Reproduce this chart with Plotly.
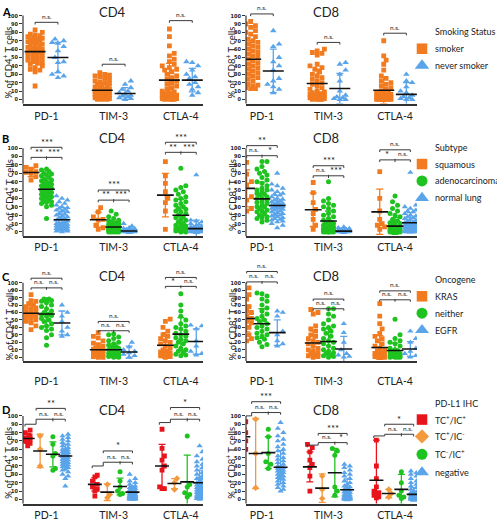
import plotly.graph_objects as go

W, H = 497, 521
categories = ["PD-1", "TIM-3", "CTLA-4"]
y_ticks = list(range(0, 101, 10))

# ---------------- Panel A : smoking status ----------------
a_names = ["smoker", "never smoker"]
a_cd4_smoker = [
    [83, 80, 78, 77, 76, 75, 74, 73, 72, 71, 70, 70, 69, 68, 67, 66, 65, 64, 63, 62, 61, 60, 60, 59, 58, 57, 56, 55, 54, 53, 52, 50, 49, 48, 47, 45, 44, 43, 42, 40, 38, 36, 35, 33, 16],
    [32, 30, 29, 28, 27, 25, 24, 22, 21, 20, 19, 18, 17, 16, 15, 14, 13, 12, 11, 10, 10, 9, 9, 8, 8, 7, 6, 6, 5, 5, 4, 4, 3, 3, 2, 2, 1, 1, 1, 0, 0, 0],
    [84, 75, 64, 55, 52, 48, 45, 42, 40, 38, 36, 35, 33, 30, 28, 26, 24, 22, 20, 18, 16, 14, 12, 10, 9, 8, 7, 6, 5, 5, 4, 3, 3, 2, 2, 1, 1, 1, 0, 0, 0, 0],
]
a_cd4_never = [
    [72, 70, 68, 67, 63, 58, 50, 45, 44, 33, 30, 28, 26],
    [22, 18, 14, 12, 10, 8, 6, 5, 4, 3, 2, 1, 0],
    [45, 44, 40, 35, 30, 27, 25, 20, 18, 15, 12, 8, 5],
]
a_cd4_mean = [[57, 11, 23], [50, 7, 23]]
a_cd4_sd = [[14, 9, 20], [18, 7, 14]]
a_cd4_sig = [("n.s.", 92), ("n.s.", 42), ("n.s.", 94)]

a_cd8_smoker = [
    [93, 90, 88, 86, 82, 80, 78, 75, 72, 70, 68, 66, 64, 62, 60, 58, 56, 55, 54, 52, 50, 48, 46, 44, 42, 40, 38, 36, 34, 32, 30, 28, 26, 24, 22, 20, 18, 17, 16, 14, 13, 13],
    [60, 58, 56, 55, 53, 42, 40, 38, 36, 33, 30, 28, 26, 24, 22, 20, 18, 16, 14, 12, 10, 9, 8, 7, 6, 5, 5, 4, 3, 3, 2, 2, 1, 1, 0, 0, 0, 0],
    [70, 52, 47, 42, 35, 28, 25, 22, 20, 18, 16, 14, 12, 10, 9, 8, 7, 6, 5, 5, 4, 4, 3, 3, 2, 2, 2, 1, 1, 1, 0, 0, 0, 0, 0, 0, 0, 0],
]
a_cd8_never = [
    [82, 66, 63, 50, 45, 40, 35, 25, 22, 18, 15, 12, 8],
    [44, 42, 35, 30, 22, 10, 5, 3, 2, 1, 0, 0],
    [30, 22, 20, 15, 10, 8, 5, 3, 2, 1, 0, 0],
]
a_cd8_mean = [[48, 19, 11], [34, 13, 6]]
a_cd8_sd = [[22, 17, 16], [26, 18, 14]]
a_cd8_sig = [("n.s.", 102), ("n.s.", 68), ("n.s.", 79)]

# ---------------- Panel B : subtype ----------------
b_names = ["squamous", "adenocarcinoma", "normal lung"]
b_cd4_squamous = [
    [79, 77, 75, 72, 71, 70, 66, 62],
    [29, 24, 18, 15, 14, 8, 5, 3],
    [84, 67, 58, 48, 40, 35, 25, 3],
]
b_cd4_adeno = [
    [75, 74, 72, 70, 69, 68, 67, 65, 63, 62, 61, 60, 58, 58, 57, 56, 55, 54, 53, 52, 51, 50, 49, 48, 47, 46, 45, 44, 43, 42, 41, 40, 38, 37, 36, 35, 34, 32, 30, 16],
    [25, 21, 18, 16, 14, 13, 12, 11, 10, 10, 9, 9, 8, 8, 7, 7, 6, 6, 6, 5, 5, 5, 4, 4, 4, 3, 3, 3, 2, 2, 2, 1, 1, 1, 1, 0, 0, 0, 0, 0],
    [76, 55, 53, 50, 48, 45, 42, 40, 38, 36, 34, 32, 30, 28, 27, 25, 24, 22, 20, 18, 17, 15, 14, 12, 10, 9, 8, 7, 6, 5, 5, 4, 3, 3, 2, 2, 1, 1, 0, 0],
]
b_cd4_normal = [
    [43, 40, 38, 36, 34, 32, 30, 29, 28, 27, 26, 25, 24, 22, 21, 20, 19, 18, 17, 16, 15, 14, 13, 12, 11, 10, 10, 9, 9, 8, 8, 7, 7, 6, 5, 5, 4, 4, 3, 3, 2, 2, 1, 1, 0],
    [10, 7, 5, 4, 4, 3, 3, 3, 2, 2, 2, 2, 2, 1, 1, 1, 1, 1, 1, 1, 1, 1, 1, 1, 0, 0, 0, 0, 0, 0, 0, 0, 0, 0, 0, 0, 0, 0, 0, 0, 0, 0, 0, 0, 0],
    [68, 14, 13, 12, 10, 9, 8, 7, 6, 6, 5, 5, 4, 4, 3, 3, 3, 2, 2, 2, 2, 1, 1, 1, 1, 1, 1, 0, 0, 0, 0, 0, 0, 0, 0, 0, 0, 0, 0, 0, 0, 0, 0, 0, 0],
]
b_cd4_mean = [[71, 14.6, 44], [51, 6, 20], [14.6, 1.2, 4]]
b_cd4_sd = [[5, 9, 26], [13, 6, 19], [10, 2, 10]]
b_cd4_sig = [("***", 101, "**", "***", 89), ("***", 50, "**", "***", 38), ("***", 107, "**", "***", 95)]

b_cd8_squamous = [
    [83, 69, 60, 56, 42, 38, 28, 25],
    [59, 47, 35, 27, 22, 15, 8, 3],
    [72, 40, 25, 15, 10, 8, 6, 3],
]
b_cd8_adeno = [
    [84, 84, 78, 75, 72, 70, 68, 65, 62, 60, 58, 55, 52, 50, 50, 48, 46, 45, 44, 42, 40, 40, 38, 36, 35, 34, 32, 30, 30, 28, 26, 25, 24, 22, 20, 18, 17, 16, 14, 12],
    [60, 40, 37, 34, 32, 30, 28, 25, 22, 20, 18, 16, 14, 12, 11, 10, 9, 8, 7, 6, 5, 5, 4, 4, 3, 3, 3, 2, 2, 2, 1, 1, 1, 1, 0, 0, 0, 0, 0, 0],
    [43, 36, 32, 28, 25, 22, 20, 18, 15, 13, 12, 11, 10, 9, 8, 7, 6, 6, 5, 5, 4, 4, 3, 3, 3, 2, 2, 2, 1, 1, 1, 1, 0, 0, 0, 0, 0, 0, 0, 0],
]
b_cd8_normal = [
    [70, 57, 55, 52, 50, 48, 46, 45, 44, 42, 40, 39, 38, 37, 36, 35, 34, 33, 33, 32, 31, 30, 30, 29, 28, 28, 27, 26, 25, 24, 23, 22, 21, 20, 19, 18, 17, 16, 15, 14, 13, 12, 10, 8, 5],
    [6, 5, 4, 3, 3, 3, 2, 2, 2, 2, 2, 2, 1, 1, 1, 1, 1, 1, 1, 1, 1, 1, 1, 1, 0, 0, 0, 0, 0, 0, 0, 0, 0, 0, 0, 0, 0, 0, 0, 0, 0, 0, 0, 0, 0],
    [71, 32, 30, 28, 26, 25, 24, 22, 20, 19, 18, 17, 16, 15, 14, 13, 12, 11, 10, 10, 9, 9, 8, 8, 7, 7, 6, 6, 5, 5, 4, 4, 3, 3, 2, 2, 2, 1, 1, 1, 0, 0, 0, 0, 0],
]
b_cd8_mean = [[52, 26.5, 24], [39.5, 13, 7], [31.6, 1, 11]]
b_cd8_sd = [[22, 20, 27], [20, 12, 10], [12, 1.5, 12]]
b_cd8_sig = [("**", 103, "n.s.", "*", 91), ("***", 79, "n.s.", "***", 67), ("n.s.", 98, "*", "n.s.", 86)]

# ---------------- Panel C : oncogene ----------------
c_names = ["KRAS", "neither", "EGFR"]
c_cd4_kras = [
    [84, 76, 75, 72, 70, 68, 66, 65, 63, 62, 60, 58, 57, 56, 55, 53, 52, 50, 48, 46, 42, 37],
    [33, 28, 26, 22, 19, 17, 15, 13, 12, 11, 10, 9, 8, 7, 6, 5, 4, 3, 2, 1, 0, 0],
    [51, 48, 40, 35, 30, 28, 25, 22, 20, 18, 15, 12, 10, 8, 7, 6, 5, 4, 3, 2, 1, 0],
]
c_cd4_neither = [
    [78, 78, 77, 76, 75, 73, 70, 68, 65, 62, 60, 58, 57, 56, 55, 52, 50, 48, 45, 42, 40, 38, 36, 30, 26, 16],
    [31, 30, 27, 25, 22, 20, 18, 16, 14, 13, 12, 11, 10, 9, 8, 7, 6, 5, 4, 3, 2, 2, 1, 1, 0, 0],
    [85, 70, 62, 55, 50, 45, 42, 40, 38, 35, 32, 30, 28, 26, 24, 22, 20, 18, 15, 12, 10, 8, 6, 4, 3, 2],
]
c_cd4_egfr = [
    [70, 60, 55, 48, 40, 35, 30, 28],
    [20, 14, 10, 8, 6, 4, 2, 0],
    [43, 42, 38, 22, 15, 8, 5, 3],
]
c_cd4_mean = [[59, 10, 16], [58, 10, 31], [46, 7, 21]]
c_cd4_sd = [[11, 8, 17], [16, 8, 22], [16, 8, 17]]
c_cd4_sig = [("n.s.", 106, "n.s.", "n.s.", 93), ("n.s.", 48, "n.s.", "n.s.", 35.5), ("n.s.", 107, "*", "n.s.", 95)]

c_cd8_kras = [
    [93, 89, 84, 78, 72, 68, 65, 62, 60, 58, 55, 52, 50, 48, 46, 44, 40, 35, 30, 28, 25, 22],
    [64, 60, 58, 42, 38, 35, 30, 28, 25, 22, 20, 18, 15, 12, 10, 8, 6, 5, 3, 2, 1, 0],
    [72, 55, 45, 38, 32, 28, 25, 22, 18, 15, 12, 10, 8, 6, 5, 4, 3, 2, 1, 1, 0, 0],
]
c_cd8_neither = [
    [86, 85, 82, 78, 75, 70, 66, 62, 58, 55, 52, 50, 48, 45, 42, 40, 38, 35, 32, 30, 28, 26, 24, 20, 17, 14],
    [65, 65, 58, 55, 50, 45, 42, 40, 38, 35, 32, 28, 25, 22, 20, 18, 15, 12, 10, 8, 6, 5, 3, 2, 1, 0],
    [51, 30, 25, 22, 20, 18, 15, 12, 10, 9, 8, 7, 6, 5, 5, 4, 3, 3, 2, 2, 1, 1, 0, 0, 0, 0],
]
c_cd8_egfr = [
    [62, 60, 55, 35, 30, 22, 18, 15],
    [45, 33, 20, 10, 5, 3, 1, 0],
    [35, 25, 20, 12, 8, 5, 2, 0],
]
c_cd8_mean = [[52, 19, 13], [45, 21, 9], [33, 11, 11]]
c_cd8_sd = [[18, 16, 16], [20, 17, 10], [17, 17, 10]]
c_cd8_sig = [("n.s.", 115, "n.s.", "n.s.", 101), ("n.s.", 78, "n.s.", "n.s.", 65), ("n.s.", 89, "n.s.", "n.s.", 77)]

# ---------------- Panel D : PD-L1 IHC ----------------
d_names = ["TC<sup>+</sup>/IC<sup>+</sup>", "TC<sup>+</sup>/IC<sup>-</sup>", "TC<sup>-</sup>/IC<sup>+</sup>", "negative"]
d_cd4_tcic = [
    [83, 80, 76, 74, 73, 72, 70, 67, 64],
    [29, 27, 22, 18, 15, 12, 10, 4],
    [84, 61, 52, 47, 40, 35, 15, 13, 13],
]
d_cd4_tc = [[76, 60, 40], [18, 6, 2], [25, 20, 12]]
d_cd4_ic = [[75, 66, 55, 52, 37, 35], [33, 22, 15, 10, 7, 6], [76, 18, 15, 8, 6, 3]]
d_cd4_neg = [
    [78, 76, 74, 72, 70, 68, 66, 64, 62, 60, 60, 59, 58, 57, 56, 55, 54, 53, 52, 51, 50, 49, 48, 47, 46, 45, 44, 43, 42, 41, 40, 39, 38, 36, 35, 33, 30, 28, 25, 16],
    [30, 25, 22, 20, 18, 16, 15, 14, 13, 12, 11, 10, 10, 9, 9, 8, 8, 7, 7, 6, 6, 5, 5, 5, 4, 4, 4, 3, 3, 3, 2, 2, 2, 1, 1, 1, 0, 0, 0, 0],
    [64, 57, 52, 48, 45, 42, 40, 38, 35, 32, 30, 28, 26, 25, 24, 22, 20, 19, 18, 17, 16, 15, 14, 13, 12, 11, 10, 9, 8, 7, 6, 5, 5, 4, 3, 3, 2, 1, 1, 0],
]
d_cd4_mean = [[73, 18, 40], [58, 8.7, 19], [54, 15.5, 21], [52, 8.7, 20]]
d_cd4_sd = [[6, 8, 26], [20, 10, 6], [15, 10, 32], [14, 7, 15]]
d_cd4_sig = [("**", 109, "n.s.", "n.s.", 96, 90), ("*", 58, "n.s.", "n.s.", 44.5, 40), ("*", 110, "n.s.", "n.s.", 96, 92)]

d_cd8_tcic = [
    [93, 90, 83, 80, 75, 70, 65, 60, 57],
    [66, 62, 57, 47, 42, 38, 28, 10],
    [71, 40, 25, 15, 10, 8, 5, 3, 2],
]
d_cd8_tc = [[96, 55, 14], [28, 12, 1], [12, 7, 3]]
d_cd8_ic = [[84, 75, 55, 45, 42, 37], [61, 58, 53, 15, 10, 5], [33, 20, 10, 5, 3, 1]]
d_cd8_neg = [
    [92, 85, 80, 76, 72, 70, 66, 63, 60, 58, 55, 52, 50, 48, 46, 44, 42, 40, 39, 38, 37, 36, 35, 34, 33, 32, 30, 30, 28, 28, 26, 25, 24, 22, 20, 18, 16, 14, 12, 10],
    [42, 40, 38, 35, 32, 30, 28, 25, 22, 20, 18, 16, 15, 14, 12, 11, 10, 9, 8, 7, 6, 5, 5, 4, 4, 3, 3, 2, 2, 2, 1, 1, 1, 0, 0, 0, 0, 0, 0, 0],
    [34, 32, 30, 28, 25, 22, 20, 18, 16, 14, 12, 10, 9, 8, 7, 6, 5, 5, 4, 4, 3, 3, 3, 2, 2, 2, 1, 1, 1, 1, 0, 0, 0, 0, 0, 0, 0, 0, 0, 0],
]
d_cd8_mean = [[75, 39, 23], [55, 13.5, 7], [56, 32, 12], [38.5, 11.5, 6]]
d_cd8_sd = [[10, 18, 48], [42, 17, 5], [19, 29, 18], [20, 13, 8]]
d_cd8_sig = [("***", 117, "n.s.", "n.s.", 104, 100), ("***", 79, "n.s.", "*", 68, 65), ("*", 90, "n.s.", "n.s.", 78, 76)]

# ---------------- styling ----------------
ORANGE = "#F27B1F"
BLUE = "#5AA4EA"
GREEN = "#1FC31F"
RED = "#E8141C"
LORANGE = "#F49A3E"
TXT = "#222222"
AX = "#333333"
FONT = "Lato, Open Sans, sans-serif"

rows = [
    dict(p0=100.0, p100=15.7, top=114, letter="A", title="Smoking Status", names=a_names,
         styles=[("square", ORANGE, 4.8), ("triangle-up", BLUE, 5.8)],
         offs=[-0.17, 0.17], mw=15, hw=8, standoff=2,
         data=[(a_cd4_smoker, a_cd4_never), (a_cd8_smoker, a_cd8_never)],
         mean=[a_cd4_mean, a_cd8_mean], sd=[a_cd4_sd, a_cd8_sd], sig=[a_cd4_sig, a_cd8_sig],
         title_y=12, leg_y=[32, 49, 66]),
    dict(p0=233.3, p100=149.0, top=115, letter="B", title="Subtype", names=b_names,
         styles=[("square", ORANGE, 4.8), ("circle", GREEN, 5), ("triangle-up", BLUE, 5.5)],
         offs=[-0.23, 0.0, 0.23], mw=12, hw=6, standoff=1,
         data=[(b_cd4_squamous, b_cd4_adeno, b_cd4_normal), (b_cd8_squamous, b_cd8_adeno, b_cd8_normal)],
         mean=[b_cd4_mean, b_cd8_mean], sd=[b_cd4_sd, b_cd8_sd], sig=[b_cd4_sig, b_cd8_sig],
         title_y=139, leg_y=[148, 165, 182, 199]),
    dict(p0=359.3, p100=284.3, top=122, letter="C", title="Oncogene", names=c_names,
         styles=[("square", ORANGE, 4.8), ("circle", GREEN, 5), ("triangle-up", BLUE, 5.5)],
         offs=[-0.23, 0.0, 0.23], mw=12, hw=6, standoff=10,
         data=[(c_cd4_kras, c_cd4_neither, c_cd4_egfr), (c_cd8_kras, c_cd8_neither, c_cd8_egfr)],
         mean=[c_cd4_mean, c_cd8_mean], sd=[c_cd4_sd, c_cd8_sd], sig=[c_cd4_sig, c_cd8_sig],
         title_y=278, leg_y=[281, 298, 315, 332]),
    dict(p0=502.3, p100=418.3, top=124, letter="D", title="PD-L1 IHC", names=d_names,
         styles=[("square", RED, 4.8), ("diamond", LORANGE, 5), ("circle", GREEN, 5), ("triangle-up", BLUE, 5.5)],
         offs=[-0.28, -0.095, 0.095, 0.28], mw=10, hw=4.5, standoff=1,
         data=[(d_cd4_tcic, d_cd4_tc, d_cd4_ic, d_cd4_neg), (d_cd8_tcic, d_cd8_tc, d_cd8_ic, d_cd8_neg)],
         mean=[d_cd4_mean, d_cd8_mean], sd=[d_cd4_sd, d_cd8_sd], sig=[d_cd4_sig, d_cd8_sig],
         title_y=412, leg_y=[406, 422, 439, 457, 475]),
]
cols = [dict(l=23.0, r=203.0, xr=(-0.35, 2.33), title="CD4", tx=112, ylab_x=8),
        dict(l=246.0, r=417.0, xr=(-0.24, 2.33), title="CD8", tx=326, ylab_x=231)]

YBOT = -5


def swarm(vals, kx, ky, diam, hw):
    step = diam * 0.5
    n = int(hw // step)
    cands = [0.0]
    for j in range(1, n + 1):
        cands += [j * step, -j * step]
    placed = []
    xs = [0.0] * len(vals)
    for i in sorted(range(len(vals)), key=lambda t: vals[t]):
        y = vals[i] * ky
        best, bestd = 0.0, -1.0
        for c in cands:
            d = min([((c - px) ** 2 + (y - py) ** 2) ** 0.5 for px, py in placed] or [1e9])
            if d >= diam * 0.95:
                best = c
                break
            if d > bestd:
                bestd, best = d, c
        placed.append((best, y))
        xs[i] = best / kx
    return xs


fig = go.Figure()
shapes, annos = [], []
layout_axes = {}
line_style = dict(color="#3a3a3a", width=1)

ax = 0
for ri, row in enumerate(rows):
    ky = (row["p0"] - row["p100"]) / 100.0
    bot_px = row["p0"] - YBOT * ky
    top_px = row["p100"] - (row["top"] - 100) * ky
    ydom = [1 - bot_px / H, 1 - top_px / H]
    for ci, col in enumerate(cols):
        ax += 1
        xa, ya = f"x{ax}", f"y{ax}"
        kx = (col["r"] - col["l"]) / (col["xr"][1] - col["xr"][0])
        layout_axes[f"xaxis{ax}"] = dict(
            domain=[col["l"] / W, col["r"] / W], range=list(col["xr"]), anchor=ya,
            tickvals=[0, 1, 2], ticktext=categories, ticks="", showgrid=False, zeroline=False,
            showline=True, linecolor=AX, linewidth=1.5, tickfont=dict(size=10.5, color=TXT, family=FONT),
            ticklabelstandoff=row["standoff"])
        layout_axes[f"yaxis{ax}"] = dict(
            domain=ydom, range=[YBOT, row["top"]], anchor=xa, tickvals=y_ticks,
            ticks="outside", ticklen=3, tickwidth=1, tickcolor=AX, showgrid=False, zeroline=False,
            showline=False, tickfont=dict(size=5.5, color=TXT, family="DejaVu Sans Condensed", weight="bold"))
        shapes.append(dict(type="line", xref="paper", yref="paper",
                           x0=col["l"] / W, x1=col["l"] / W, y0=ydom[0], y1=1 - row["p100"] / H,
                           line=dict(color=AX, width=1.2)))
        groups = row["data"][ci]
        ng = len(groups)
        for gi, vals_by_cat in enumerate(groups):
            sym, colr, size = row["styles"][gi]
            px, py = [], []
            for k, vals in enumerate(vals_by_cat):
                xs = swarm(vals, kx, ky, size, row["hw"])
                px += [k + row["offs"][gi] + x for x in xs]
                py += vals
            fig.add_trace(go.Scatter(x=px, y=py, mode="markers", xaxis=xa, yaxis=ya, showlegend=False,
                                     marker=dict(symbol=sym, color=colr, size=size, line=dict(width=0)),
                                     hoverinfo="skip"))
            cx = [k + row["offs"][gi] for k in range(3)]
            fig.add_trace(go.Scatter(x=cx, y=row["mean"][ci][gi], mode="markers", xaxis=xa, yaxis=ya,
                                     showlegend=False, marker=dict(size=1, color="rgba(0,0,0,0)"),
                                     error_y=dict(type="data", array=row["sd"][ci][gi], color=colr,
                                                  thickness=1.3, width=3.5), hoverinfo="skip"))
        for gi in range(ng):
            cx = [k + row["offs"][gi] for k in range(3)]
            fig.add_trace(go.Scatter(x=cx, y=row["mean"][ci][gi], mode="markers", xaxis=xa, yaxis=ya,
                                     showlegend=False, hoverinfo="skip",
                                     marker=dict(symbol="line-ew", size=row["mw"],
                                                 line=dict(width=1.6, color="#111111"))))
        tick = 2.6

        def hline(x0, x1, y):
            shapes.append(dict(type="line", xref=xa, yref=ya, x0=x0, x1=x1, y0=y, y1=y, line=line_style))

        def vline(x, y0, y1):
            shapes.append(dict(type="line", xref=xa, yref=ya, x0=x, x1=x, y0=y0, y1=y1, line=line_style))

        def label(x, y, txt):
            star = "*" in txt
            annos.append(dict(xref=xa, yref=ya, x=x, y=y, text=txt, showarrow=False, yanchor="bottom",
                              yshift=-3 if star else 0,
                              font=dict(size=9.5 if star else 6.5, color=TXT, family=FONT)))

        for k, s in enumerate(row["sig"][ci]):
            g = [k + o for o in row["offs"]]
            if ng == 2:
                lab, y = s
                hline(g[0], g[1], y); vline(g[0], y - tick, y); vline(g[1], y - tick, y)
                label((g[0] + g[1]) / 2, y + 0.8, lab)
            elif ng == 3:
                tl, ty, l1, l2, ly = s
                hline(g[0], g[2], ty); vline(g[0], ty - tick, ty); vline(g[2], ty - tick, ty)
                label(g[1], ty + 0.8, tl)
                hline(g[0], g[2], ly)
                for gx in g:
                    vline(gx, ly - tick, ly)
                vline(g[1], ly, ly + 1.2)
                label((g[0] + g[1]) / 2, ly + 0.8, l1)
                label((g[1] + g[2]) / 2, ly + 0.8, l2)
            else:
                tl, ty, l1, l2, my, lw = s
                xa0 = g[1] - 0.06
                hline(xa0, g[3], ty); vline(xa0, ty - tick, ty); vline(g[3], ty - tick, ty)
                label((xa0 + g[3]) / 2, ty + 0.8, tl)
                hline(xa0, g[3], my); vline(xa0, lw, my); vline(g[2], my - tick, my + 1.2); vline(g[3], my - tick, my)
                hline(g[0] - 0.04, xa0, lw); vline(g[0] - 0.04, lw - tick, lw)
                label((xa0 + g[2]) / 2, my + 0.8, l1)
                label((g[2] + g[3]) / 2, my + 0.8, l2)
        annos.append(dict(xref="paper", yref="paper", x=col["tx"] / W, y=1 - row["title_y"] / H,
                          text=col["title"], showarrow=False, xanchor="center", yanchor="middle",
                          font=dict(size=13, color=TXT, family=FONT)))
        annos.append(dict(xref="paper", yref="paper", x=col["ylab_x"] / W, y=1 - (row["p0"] - 44 * ky) / H,
                          text=f"% of {col['title']}<sup>+</sup> T cells", showarrow=False, textangle=-90,
                          xanchor="center", yanchor="middle", font=dict(size=9.5, color=TXT, family=FONT)))
    annos.append(dict(xref="paper", yref="paper", x=0.0, y=1 - row["title_y"] / H, text=f"<b>{row['letter']}</b>",
                      showarrow=False, xanchor="left", yanchor="middle", font=dict(size=11, color="#000", family=FONT)))
    ly = row["leg_y"]
    annos.append(dict(xref="paper", yref="paper", x=433 / W, y=1 - ly[0] / H, text=row["title"], showarrow=False,
                      xanchor="left", yanchor="middle", font=dict(size=9, color=TXT, family=FONT)))
    for gi, name in enumerate(row["names"]):
        sym, colr, size = row["styles"][gi]
        fig.add_trace(go.Scatter(x=[422], y=[ly[gi + 1]], xaxis="x99", yaxis="y99", mode="markers",
                                 showlegend=False, hoverinfo="skip",
                                 marker=dict(symbol=sym, color=colr, size=size * 2.2, line=dict(width=0))))
        annos.append(dict(xref="paper", yref="paper", x=433 / W, y=1 - ly[gi + 1] / H, text=name, showarrow=False,
                          xanchor="left", yanchor="middle", font=dict(size=9, color=TXT, family=FONT)))

layout_axes["xaxis99"] = dict(domain=[0, 1], range=[0, W], visible=False, anchor="y99")
layout_axes["yaxis99"] = dict(domain=[0, 1], range=[H, 0], visible=False, anchor="x99")

fig.update_layout(width=W, height=H, margin=dict(l=0, r=0, t=0, b=0), showlegend=False,
                  paper_bgcolor="white", plot_bgcolor="rgba(0,0,0,0)", shapes=shapes, annotations=annos,
                  font=dict(family=FONT, color=TXT), **layout_axes)
fig.write_html("out.html", config={"displayModeBar": False},
               post_script="document.body.style.margin='0';document.body.style.overflow='hidden';")
